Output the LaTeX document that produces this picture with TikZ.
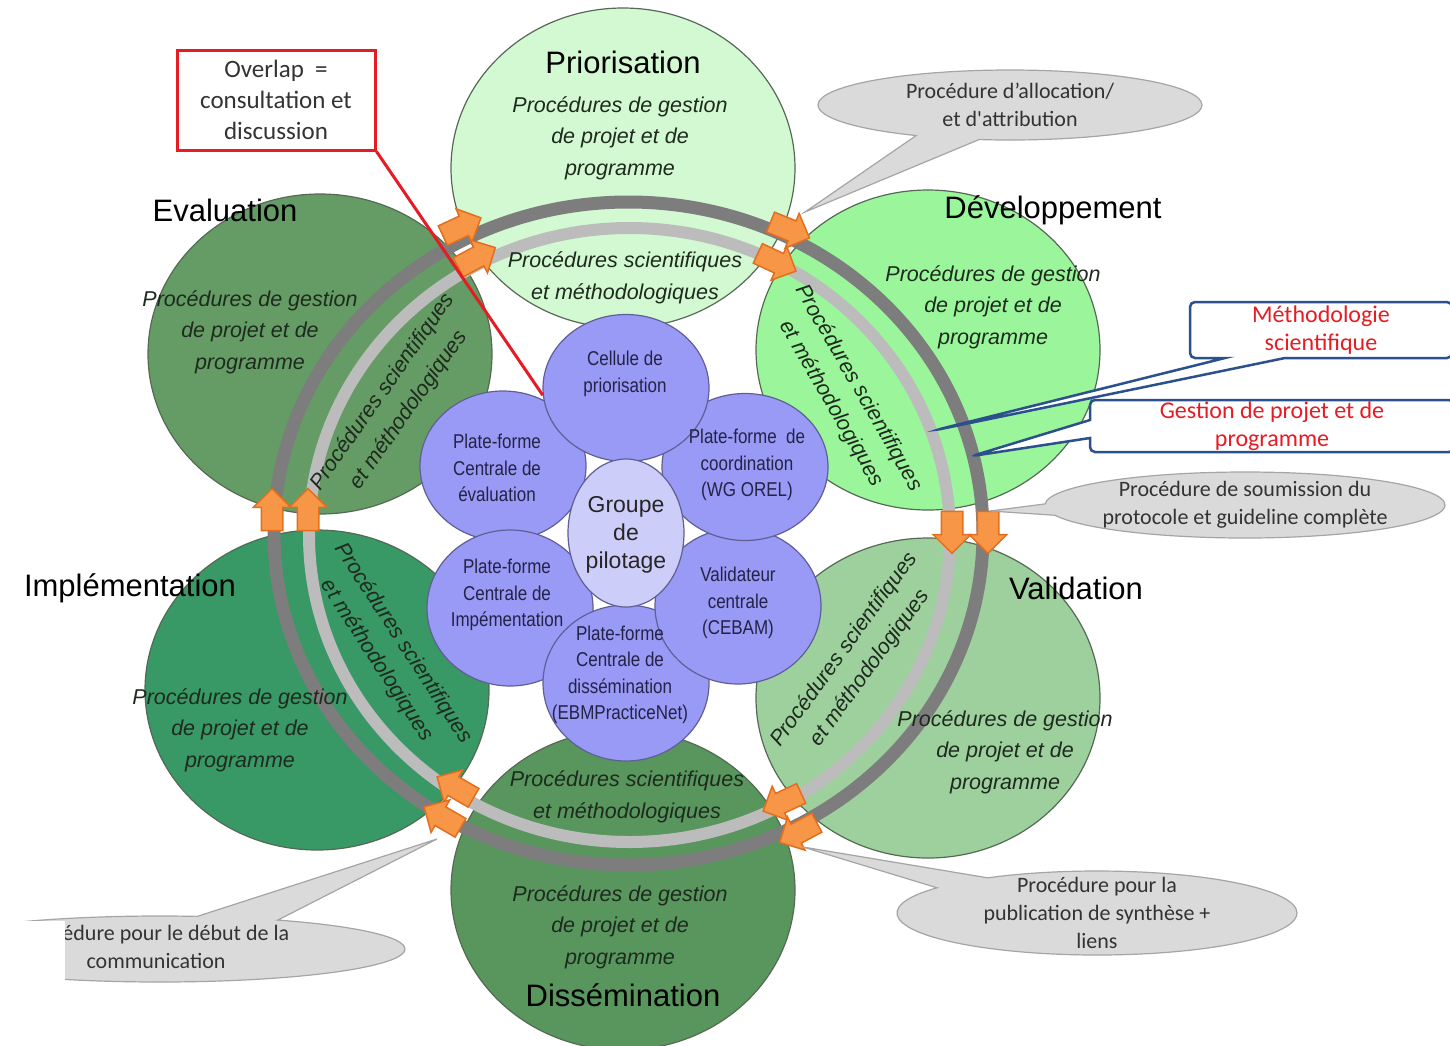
\documentclass[tikz,border=0pt]{standalone}
\usepackage{fontspec}
\setmainfont{Liberation Sans}
\newfontfamily\calloutfont{Carlito}
\newfontfamily\narrowfont[FakeStretch=0.85]{Liberation Sans}
\usepackage{tikz}
\usetikzlibrary{shapes.geometric, shapes.arrows, shapes.callouts}

\definecolor{priocol}{RGB}{211,249,211}
\definecolor{devcol}{RGB}{155,246,155}
\definecolor{valcol}{RGB}{158,208,158}
\definecolor{dissemcol}{RGB}{88,150,94}
\definecolor{implcol}{RGB}{56,152,102}
\definecolor{evalcol}{RGB}{101,156,101}
\definecolor{phaseedge}{RGB}{85,105,85}
\definecolor{ringdark}{RGB}{125,125,125}
\definecolor{ringlight}{RGB}{188,188,188}
\definecolor{petalcol}{RGB}{153,153,246}
\definecolor{petaledge}{RGB}{95,95,150}
\definecolor{pilotcol}{RGB}{205,205,250}
\definecolor{petaltextcol}{RGB}{35,35,70}
\definecolor{arrowfill}{RGB}{247,150,70}
\definecolor{arrowedge}{RGB}{226,110,30}
\definecolor{bubblefill}{RGB}{218,218,218}
\definecolor{bubbleedge}{RGB}{165,165,165}
\definecolor{notered}{RGB}{230,28,36}
\definecolor{noteblue}{RGB}{44,80,140}
\definecolor{proctext}{RGB}{30,42,30}

\tikzset{
  phase/.style={ellipse, draw=phaseedge, line width=1.2pt, minimum width=344, minimum height=320, inner sep=0},
  petal/.style={ellipse, draw=petaledge, line width=1.2pt, fill=petalcol, minimum width=166, minimum height=150, inner sep=0},
  phasetitle/.style={font=\fontsize{31}{37}\selectfont},
  proc/.style={font=\itshape\fontsize{21.5}{31.5}\selectfont, text=proctext, align=center},
  petaltext/.style={font=\narrowfont\fontsize{20}{26.5}\selectfont, text=petaltextcol, align=center},
  flow/.style={single arrow, fill=arrowfill, draw=arrowedge, line width=1.5pt, inner xsep=0, inner ysep=10, minimum height=42, single arrow head extend=8},
  bubble/.style={ellipse callout, fill=bubblefill, draw=bubbleedge, line width=1.2pt, inner sep=0, callout pointer arc=20},
  bubbletext/.style={font=\calloutfont\fontsize{22}{28}\selectfont, text=black!80, align=center},
  note/.style={rectangle callout, draw=noteblue, line width=2.5pt, fill=white, rounded corners=5pt, inner sep=0, font=\calloutfont\fontsize{24}{28}\selectfont, text=notered, align=center}
}

\begin{document}
\begin{tikzpicture}[x=1pt, y=-1pt]
  \useasboundingbox (0,0) rectangle (1450,1045);
  \clip (0,0) rectangle (1450,1045);

  \node[phase, fill=priocol] (prior) at (623,168) {};
  \node[phase, fill=devcol] (devel) at (928,350) {};
  \node[phase, fill=valcol] (valid) at (928,698) {};
  \node[phase, fill=dissemcol] (dissem) at (623,890) {};
  \node[phase, fill=implcol] (implem) at (317,690) {};
  \node[phase, fill=evalcol] (evalu) at (320,354) {};

  \draw[ringdark, line width=13] (628.5,533.5) ellipse [x radius=354.5, y radius=331.5];
  \draw[ringlight, line width=12] (629.5,535) ellipse [x radius=320.5, y radius=307];

  \node[petal] (evalpf) at (503,466) {};
  \node[petal, minimum height=156] (implpf) at (510,608) {};
  \node[petal, minimum height=156] (dissempf) at (626,683) {};
  \node[petal, minimum height=156] (cebam) at (738,606) {};
  \node[petal, minimum height=147] (orel) at (745,467) {};
  \node[petal, minimum height=147] (cellule) at (626,388) {};
  \node[ellipse, draw=petaledge, fill=pilotcol, line width=1.2pt, minimum width=116, minimum height=148, inner sep=0] (pilot) at (626,533) {};

  \node[petaltext] at (625,374) {Cellule de\\priorisation};
  \node[petaltext] at (747,465) {Plate-forme \ de\\coordination\\(WG OREL)};
  \node[petaltext] at (738,603) {Validateur\\centrale\\(CEBAM)};
  \node[petaltext] at (620,675) {Plate-forme\\Centrale de\\dissémination\\(EBMPracticeNet)};
  \node[petaltext] at (507,595) {Plate-forme\\Centrale de\\Impémentation};
  \node[petaltext] at (497,468) {Plate-forme\\Centrale de\\évaluation};
  \node[font=\fontsize{23}{28}\selectfont, align=center, text=black!85] at (626,535) {Groupe\\de\\pilotage};

  \node[flow, rotate=25] (pd1) at (457,229) {};
  \node[flow, rotate=28] (pd2) at (472,260) {};
  \node[flow, rotate=-22] (dv1) at (785,228) {};
  \node[flow, rotate=-25] (dv2) at (772,260) {};
  \node[flow, rotate=-90] (vl1) at (952,527) {};
  \node[flow, rotate=-90] (vl2) at (988,527) {};
  \node[flow, rotate=205] (ds1) at (787,800) {};
  \node[flow, rotate=208] (ds2) at (803,830) {};
  \node[flow, rotate=150] (im1) at (460,790) {};
  \node[flow, rotate=150] (im2) at (447,820) {};
  \node[flow, rotate=90] (ev1) at (272,515) {};
  \node[flow, rotate=90] (ev2) at (308,515) {};

  \node[phasetitle] at (623,62) {Priorisation};
  \node[phasetitle] at (1053,210) {Développement};
  \node[phasetitle] at (1076,588) {Validation};
  \node[phasetitle] at (623,995) {Dissémination};
  \node[phasetitle] at (130,588) {Implémentation};
  \node[phasetitle] at (225,210) {Evaluation};

  \node[proc] at (620,138) {Procédures de gestion\\de projet et de\\programme};
  \node[proc] at (993,307) {Procédures de gestion\\de projet et de\\programme};
  \node[proc] at (1005,752) {Procédures de gestion\\de projet et de\\programme};
  \node[proc] at (620,927) {Procédures de gestion\\de projet et de\\programme};
  \node[proc] at (240,730) {Procédures de gestion\\de projet et de\\programme};
  \node[proc] at (250,332) {Procédures de gestion\\de projet et de\\programme};

  \node[proc] at (625,278) {Procédures scientifiques\\et méthodologiques};
  \node[proc, rotate=-60] at (845,396) {Procédures scientifiques\\et méthodologiques};
  \node[proc, rotate=54] at (857,659) {Procédures scientifiques\\et méthodologiques};
  \node[proc] at (627,797) {Procédures scientifiques\\et méthodologiques};
  \node[proc, rotate=-57] at (390,652) {Procédures scientifiques\\et méthodologiques};
  \node[proc, rotate=55] at (396,401) {Procédures scientifiques\\et méthodologiques};

  \node[draw=notered, line width=3pt, fill=white, minimum width=198, minimum height=100, inner sep=0, font=\calloutfont\fontsize{25}{31}\selectfont, text=black!80, align=center] (overlap) at (276,100) {Overlap \ =\\consultation et\\discussion};
  \draw[notered, line width=3pt] (overlap.south east) -- (cellule.185);

  \coordinate (alloctip) at (805,212);
  \node[bubble, minimum width=384, minimum height=70, callout absolute pointer={(alloctip)}] (alloc) at (1010,105) {};
  \node[bubbletext] at (alloc.center) {Procédure d’allocation/\\et d'attribution};

  \coordinate (soumtip) at (990,511);
  \node[bubble, minimum width=400, minimum height=66, callout absolute pointer={(soumtip)}] (soum) at (1245,505) {};
  \node[bubbletext] at (soum.center) {Procédure de soumission du\\protocole et guideline complète};

  \coordinate (pubtip) at (803,847);
  \node[bubble, minimum width=400, minimum height=84, callout absolute pointer={(pubtip)}] (pub) at (1097,913) {};
  \node[bubbletext] at (pub.center) {Procédure pour la\\publication de synthèse +\\liens};

  \coordinate (commtip) at (437,839);
  \node[bubble, minimum width=490, minimum height=66, callout absolute pointer={(commtip)}] (comm) at (160,949) {};
  \node[bubbletext] at (156,947) {Procédure pour le début de la\\communication};
  \fill[white] (0,921) rectangle (65,1045);

  \coordinate (methtip) at (936,430);
  \node[note, minimum width=262, minimum height=56, callout absolute pointer={(methtip)}, callout pointer width=60] (meth) at (1321,330) {Méthodologie\\scientifique};
  \coordinate (gesttip) at (972,456);
  \node[note, minimum width=364, minimum height=52, callout absolute pointer={(gesttip)}, callout pointer width=18] (gest) at (1272,426) {Gestion de projet et de\\programme};
\end{tikzpicture}
\end{document}
